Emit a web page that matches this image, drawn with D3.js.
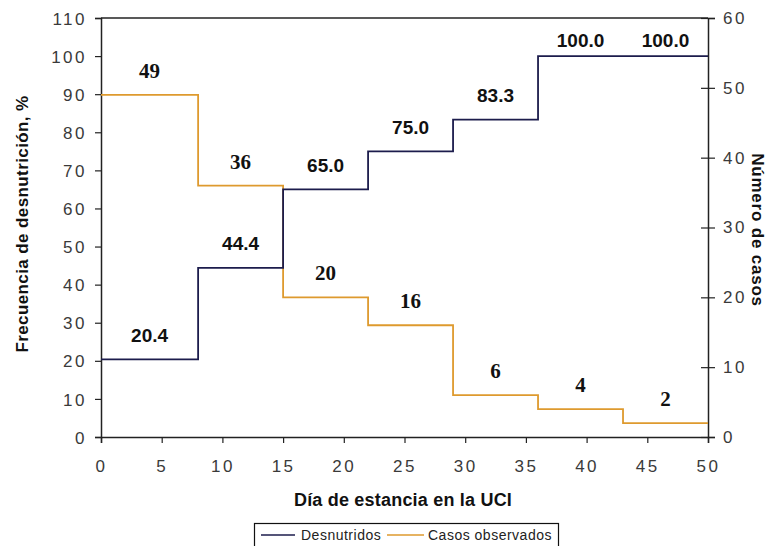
<!DOCTYPE html>
<html><head><meta charset="utf-8">
<script src="https://cdn.jsdelivr.net/npm/d3@7"></script>
<style>body{margin:0;background:#fff;} svg{display:block;}</style>
</head><body>
<svg id="chart" width="768" height="546"></svg>
<script>
const days = [0, 8, 15, 22, 29, 36, 43, 50];
const desnutridos = [20.4, 44.4, 65.0, 75.0, 83.3, 100.0, 100.0];
const casos = [49, 36, 20, 16, 6, 4, 2];
const xTicks = [0, 5, 10, 15, 20, 25, 30, 35, 40, 45, 50];
const yLeftTicks = [0, 10, 20, 30, 40, 50, 60, 70, 80, 90, 100, 110];
const yRightTicks = [0, 10, 20, 30, 40, 50, 60];
const desLabels = ["20.4", "44.4", "65.0", "75.0", "83.3", "100.0", "100.0"];
const casosLabels = ["49", "36", "20", "16", "6", "4", "2"];

const svg = d3.select("#chart");
const L = 101, R = 708, T = 18, B = 437;
const x = d3.scaleLinear().domain([0, 50]).range([L, R]);
const yL = d3.scaleLinear().domain([0, 110]).range([B, T]);
const yR = d3.scaleLinear().domain([0, 60]).range([B, T]);

const navy = "#1c1c4c", orange = "#de9a2e", axisCol = "#222";
const tickFont = "'Liberation Sans', Arial, sans-serif";

// axes
const gx = svg.append("g").attr("transform", `translate(0,${B})`)
  .call(d3.axisBottom(x).tickValues(xTicks).tickSize(6).tickPadding(17).tickFormat(d3.format("d")));
const gl = svg.append("g").attr("transform", `translate(${L},0)`)
  .call(d3.axisLeft(yL).tickValues(yLeftTicks).tickSize(6).tickPadding(8).tickFormat(d3.format("d")));
const gr = svg.append("g").attr("transform", `translate(${R},0)`)
  .call(d3.axisRight(yR).tickValues(yRightTicks).tickSize(7).tickPadding(8).tickFormat(d3.format("d")));
gr.selectAll(".tick line").attr("x1", -7);
[gx, gl, gr].forEach(g => {
  g.select(".domain").attr("stroke", axisCol).attr("stroke-width", 1.5);
  g.selectAll(".tick line").attr("stroke", axisCol).attr("stroke-width", 1.2);
  g.selectAll(".tick text").attr("font-family", tickFont).attr("font-size", 17)
    .attr("letter-spacing", "2.5px").attr("fill", "#3a3a3a");
});
gl.selectAll(".tick text").attr("dy", "0.36em");
// top border
svg.append("line").attr("x1", L).attr("x2", R).attr("y1", T).attr("y2", T)
  .attr("stroke", axisCol).attr("stroke-width", 1.5);

// step lines
function stepPoints(vals) {
  const pts = vals.map((v, i) => [days[i], v]);
  pts.push([days[days.length - 1], vals[vals.length - 1]]);
  return pts;
}
const lineL = d3.line().x(d => x(d[0])).y(d => yL(d[1])).curve(d3.curveStepAfter);
const lineR = d3.line().x(d => x(d[0])).y(d => yR(d[1])).curve(d3.curveStepAfter);
svg.append("path").attr("d", lineR(stepPoints(casos))).attr("fill", "none")
  .attr("stroke", orange).attr("stroke-width", 1.8);
svg.append("path").attr("d", lineL(stepPoints(desnutridos))).attr("fill", "none")
  .attr("stroke", navy).attr("stroke-width", 1.8);

// value labels
function mid(i) { return (days[i] + days[i + 1]) / 2; }
svg.selectAll(".dl").data(desnutridos).enter().append("text")
  .attr("x", (d, i) => x(mid(i)))
  .attr("y", d => Math.max(yL(d) - 24, T + 22))
  .attr("text-anchor", "middle").attr("dominant-baseline", "central")
  .attr("font-family", "'Liberation Sans', Arial, sans-serif").attr("font-weight", "bold")
  .attr("font-size", 19).attr("fill", "#111")
  .text((d, i) => desLabels[i]);
svg.selectAll(".cl").data(casos).enter().append("text")
  .attr("x", (d, i) => x(mid(i)))
  .attr("y", d => Math.min(yR(d) - 24, B - 30))
  .attr("text-anchor", "middle").attr("dominant-baseline", "central")
  .attr("font-family", "'Liberation Serif', 'Times New Roman', serif").attr("font-weight", "bold")
  .attr("font-size", 21).attr("fill", "#111")
  .text((d, i) => casosLabels[i]);

// axis titles
const titleFont = "'Liberation Sans', Arial, sans-serif";
svg.append("text").attr("x", 403).attr("y", 500).attr("text-anchor", "middle")
  .attr("dominant-baseline", "central").attr("font-family", titleFont)
  .attr("font-weight", "bold").attr("font-size", 18).attr("letter-spacing", "0.2px").attr("fill", "#111")
  .text("Día de estancia en la UCI");
svg.append("text").attr("transform", "translate(22,224) rotate(-90)").attr("text-anchor", "middle")
  .attr("dominant-baseline", "central").attr("font-family", titleFont)
  .attr("font-weight", "bold").attr("font-size", 17).attr("letter-spacing", "0.4px").attr("fill", "#111")
  .text("Frecuencia de desnutrición, %");
svg.append("text").attr("transform", "translate(757,230) rotate(90)").attr("text-anchor", "middle")
  .attr("dominant-baseline", "central").attr("font-family", titleFont)
  .attr("font-weight", "bold").attr("font-size", 17).attr("letter-spacing", "0.8px").attr("fill", "#111")
  .text("Número de casos");

// legend
const lg = svg.append("g");
lg.append("rect").attr("x", 254.5).attr("y", 523.5).attr("width", 304).attr("height", 30)
  .attr("fill", "#fff").attr("stroke", "#111").attr("stroke-width", 1.2);
const legItems = [
  {name: "Desnutridos", color: navy, x0: 261, x1: 295, tx: 301},
  {name: "Casos observados", color: orange, x0: 387, x1: 424, tx: 428}
];
legItems.forEach(it => {
  lg.append("line").attr("x1", it.x0).attr("x2", it.x1).attr("y1", 535).attr("y2", 535)
    .attr("stroke", it.color).attr("stroke-width", 1.5);
  lg.append("text").attr("x", it.tx).attr("y", 535).attr("dominant-baseline", "central")
    .attr("font-family", tickFont).attr("font-size", 14).attr("letter-spacing", "0.5px")
    .attr("fill", "#222").text(it.name);
});
</script>
</body></html>
